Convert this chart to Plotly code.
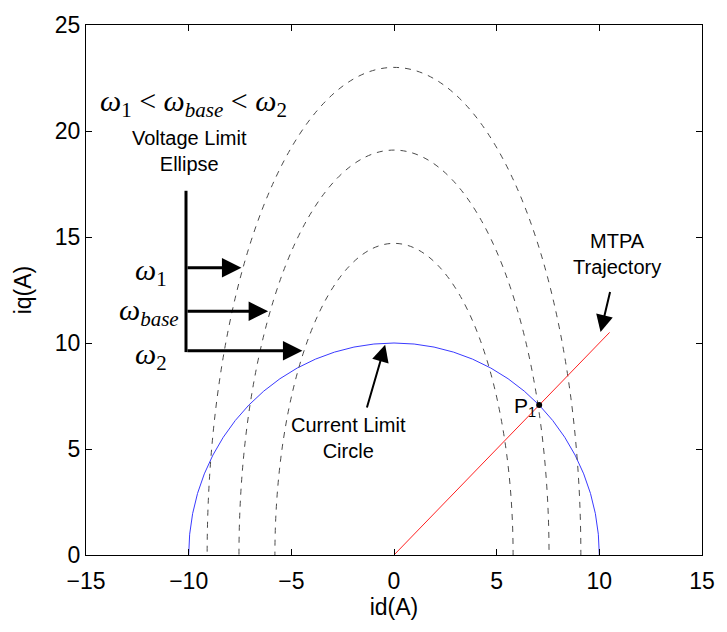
import plotly.graph_objects as go

# Operating-region diagram values (amperes)
current_limit_radius = 10.0
# voltage-limit ellipses for w1, w_base, w2: (half-width along id, height along iq)
ellipse_labels = ["w1", "w_base", "w2"]
ellipse_half_width = [9.1, 7.55, 5.8]
ellipse_height = [23.0, 19.1, 14.7]
# MTPA trajectory
mtpa_id = [0.0, 10.5]
mtpa_iq = [0.0, 10.5]
# intersection of MTPA with the current limit
p1_id = [7.07]
p1_iq = [7.07]

x_ticks = [-15, -10, -5, 0, 5, 10, 15]
y_ticks = [0, 5, 10, 15, 20, 25]

SANS = "Liberation Sans, Arial, sans-serif"
SERIF = "Liberation Serif, Times New Roman, serif"

fig = go.Figure()

fig.add_trace(go.Scatter(x=mtpa_id, y=mtpa_iq, mode="lines",
                         line=dict(color="#ff2020", width=1), hoverinfo="skip"))
fig.add_trace(go.Scatter(x=p1_id, y=p1_iq, mode="markers",
                         marker=dict(color="black", size=6), hoverinfo="skip"))

shapes = []
# current limit circle
shapes.append(dict(type="circle", xref="x", yref="y",
                   x0=-current_limit_radius, x1=current_limit_radius,
                   y0=-current_limit_radius, y1=current_limit_radius,
                   line=dict(color="#3a3aff", width=1), layer="below"))
# voltage limit ellipses
for a, b in zip(ellipse_half_width, ellipse_height):
    shapes.append(dict(type="circle", xref="x", yref="y",
                       x0=-a, x1=a, y0=-b, y1=b,
                       line=dict(color="#4a4a4a", width=1, dash="6px,6px"),
                       layer="below"))
# bracket joining the speed arrows
shapes.append(dict(type="line", xref="x", yref="y",
                   x0=-10.13, x1=-10.13, y0=9.57, y1=17.18,
                   line=dict(color="black", width=3)))

annotations = []
annotations.append(dict(
    text="<i>ω</i><sub>1</sub> &lt; <i>ω</i><sub><i>base</i></sub> &lt; <i>ω</i><sub>2</sub>",
    x=-9.75, y=21.3, xref="x", yref="y", showarrow=False,
    font=dict(family=SERIF, size=30, color="black")))
annotations.append(dict(
    text="Voltage Limit<br>Ellipse", x=-9.95, y=19.05, xref="x", yref="y",
    showarrow=False, font=dict(family=SANS, size=20, color="black")))

# speed arrows pointing at each ellipse
arrow_rows = [(13.55, -7.43), (11.5, -6.13), (9.64, -4.46)]
for yy, xh in arrow_rows:
    annotations.append(dict(
        text="", x=xh, y=yy, ax=-10.13, ay=yy, xref="x", yref="y",
        axref="x", ayref="y", showarrow=True, arrowhead=2, arrowsize=1.3,
        arrowwidth=3, arrowcolor="black"))

omega_text = ["<i>ω</i><sub>1</sub>", "<i>ω</i><sub><i>base</i></sub>",
              "<i>ω</i><sub>2</sub>"]
omega_pos = [(-11.85, 13.35), (-11.95, 11.45), (-11.85, 9.4)]
for t, (xx, yy) in zip(omega_text, omega_pos):
    annotations.append(dict(text=t, x=xx, y=yy, xref="x", yref="y",
                            showarrow=False,
                            font=dict(family=SERIF, size=30, color="black")))

annotations.append(dict(
    text="Current Limit<br>Circle", x=-2.2, y=5.5, xref="x", yref="y",
    showarrow=False, font=dict(family=SANS, size=20, color="black")))
annotations.append(dict(
    text="", x=-0.43, y=9.92, ax=-1.34, ay=6.89, xref="x", yref="y",
    axref="x", ayref="y", showarrow=True, arrowhead=2, arrowsize=1.7,
    arrowwidth=2, arrowcolor="black"))

annotations.append(dict(
    text="MTPA<br>Trajectory", x=10.88, y=14.2, xref="x", yref="y",
    showarrow=False, font=dict(family=SANS, size=20, color="black")))
annotations.append(dict(
    text="", x=10.06, y=10.52, ax=10.54, ay=12.48, xref="x", yref="y",
    axref="x", ayref="y", showarrow=True, arrowhead=2, arrowsize=1.7,
    arrowwidth=2, arrowcolor="black"))

annotations.append(dict(
    text="P<sub>1</sub>", x=6.4, y=7.0, xref="x", yref="y",
    showarrow=False, font=dict(family=SANS, size=21, color="black")))

axis_common = dict(
    showgrid=False, zeroline=False, showline=True, linecolor="black",
    linewidth=1, mirror="ticks", ticks="inside", ticklen=6, tickwidth=1,
    tickcolor="black", tickfont=dict(family=SANS, size=23, color="black"),
)

fig.update_layout(
    width=727, height=632,
    margin=dict(l=86, r=15, t=18, b=77),
    paper_bgcolor="white", plot_bgcolor="white",
    showlegend=False,
    shapes=shapes, annotations=annotations,
    xaxis=dict(range=[-15, 15], tickvals=x_ticks, ticklabelstandoff=5,
               title=dict(text="id(A)", standoff=5,
                          font=dict(family=SANS, size=23, color="black")),
               **axis_common),
    yaxis=dict(range=[0, 25], tickvals=y_ticks,
               title=dict(text="iq(A)", standoff=16,
                          font=dict(family=SANS, size=23, color="black")),
               **axis_common),
)

fig.write_html("out.html")
